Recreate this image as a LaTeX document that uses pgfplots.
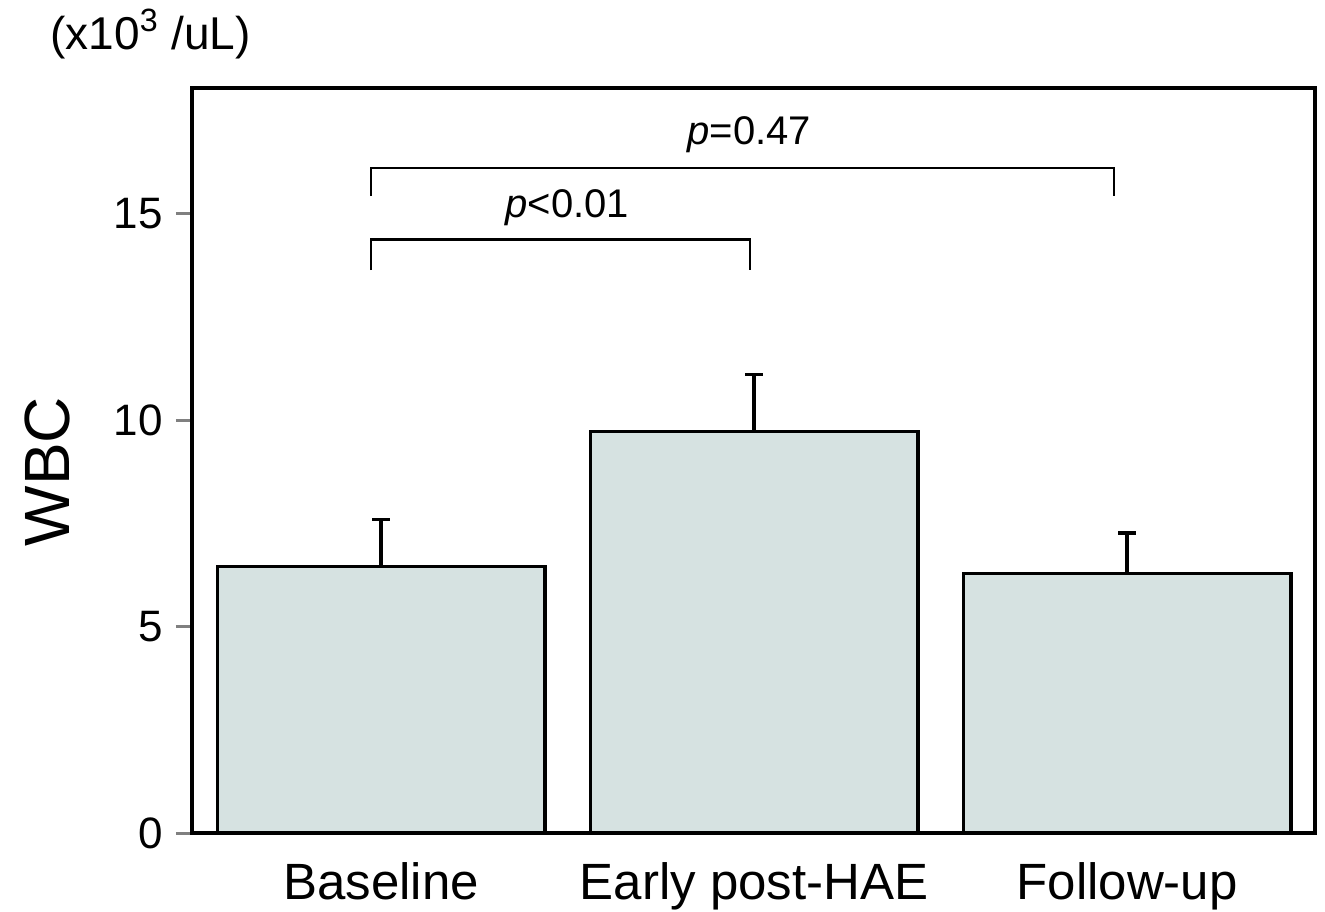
\documentclass[border=0pt]{standalone}
\usepackage{pgfplots}
\pgfplotsset{compat=1.18}
\usepackage{fontspec}
\setmainfont{Liberation Sans}
\definecolor{barfill}{RGB}{214,226,225}
\begin{document}
\begin{tikzpicture}
\path[use as bounding box] (-96pt,-39pt) rectangle (566.5pt,416.5pt);
\begin{axis}[
  at={(0,0)}, anchor=south west,
  width=561.5pt, height=372.5pt, scale only axis,
  xmin=-0.507, xmax=2.504,
  ymin=0, ymax=18.05,
  axis line style={line width=1.7pt},
  ytick={0,5,10,15},
  ytick pos=left,
  tick align=outside,
  major tick length=8pt,
  ytick style={line width=1.5pt},
  xtick={0,1,2},
  xticklabels={Baseline,Early post-HAE,Follow-up},
  xtick style={draw=none},
  /pgf/number format/assume math mode=true,
  ticklabel style={font=\fontsize{22}{26}\selectfont},
  yticklabel style={xshift=-3pt},
  xticklabel style={font=\fontsize{25.5}{30}\selectfont, yshift=-3pt},
  ylabel={WBC},
  ylabel style={font=\fontsize{32}{37}\selectfont, at={(axis description cs:-0.129,0.485)}, anchor=center},
  clip=false,
]
\addplot[ybar, bar width=0.879, fill=barfill, draw=black, line width=1.6pt,
  error bars/.cd, y dir=plus, y explicit,
  error bar style={line width=1.6pt},
  error mark options={rotate=90, mark size=4.5pt, line width=1.6pt}]
  coordinates {
    (0,6.45) +- (0,1.15)
    (1,9.72) +- (0,1.38)
    (2,6.28) +- (0,0.99)
  };
% significance brackets
\draw[line width=1.4pt] (axis cs:-0.027,13.64) -- (axis cs:-0.027,14.37) -- (axis cs:0.989,14.37) -- (axis cs:0.989,13.64);
\draw[line width=1.4pt] (axis cs:-0.027,15.43) -- (axis cs:-0.027,16.11) -- (axis cs:1.965,16.11) -- (axis cs:1.965,15.43);
\node[font=\fontsize{20}{24}\selectfont] at (axis cs:0.499,15.14) {\textit{p}<0.01};
\node[font=\fontsize{20}{24}\selectfont] at (axis cs:0.987,16.91) {\textit{p}=0.47};
\node[font=\fontsize{23}{27}\selectfont, anchor=west, inner sep=0pt] at (axis description cs:-0.1265,1.073) {(x10\textsuperscript{3} /uL)};
\end{axis}
\end{tikzpicture}
\end{document}
